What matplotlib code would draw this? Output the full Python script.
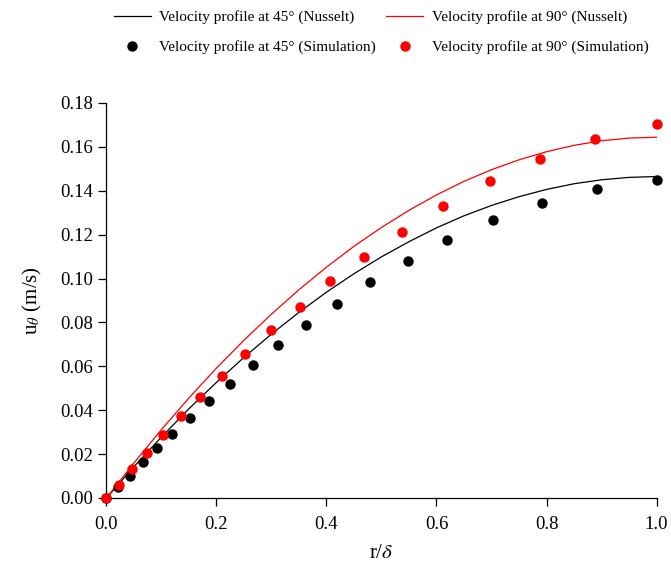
import numpy as np
import matplotlib
matplotlib.use("Agg")
import matplotlib.pyplot as plt

plt.rcParams['font.family'] = ['Liberation Serif', 'DejaVu Serif']
plt.rcParams['mathtext.fontset'] = 'stix'

# Nusselt profiles
x_line = [0.0, 0.05, 0.10, 0.15, 0.20, 0.25, 0.30, 0.35, 0.40, 0.45, 0.50,
          0.55, 0.60, 0.65, 0.70, 0.75, 0.80, 0.85, 0.90, 0.95, 1.0]
u45_nusselt = [0.0, 0.0143, 0.0278, 0.0407, 0.0527, 0.0641, 0.0747, 0.0846,
               0.0938, 0.1022, 0.1099, 0.1168, 0.1231, 0.1286, 0.1333, 0.1373,
               0.1406, 0.1432, 0.1450, 0.1461, 0.1465]
u90_nusselt = [0.0, 0.0160, 0.0312, 0.0456, 0.0592, 0.0719, 0.0838, 0.0949,
               0.1052, 0.1147, 0.1233, 0.1311, 0.1381, 0.1443, 0.1496, 0.1541,
               0.1578, 0.1607, 0.1628, 0.1640, 0.1644]

# simulation points
x45_sim = [0.0, 0.021, 0.043, 0.066, 0.092, 0.120, 0.152, 0.186, 0.224, 0.266,
           0.312, 0.363, 0.419, 0.480, 0.548, 0.620, 0.703, 0.792, 0.891, 1.0]
u45_sim = [0.0, 0.0050, 0.0102, 0.0163, 0.0226, 0.0293, 0.0363, 0.0441, 0.0521,
           0.0606, 0.0696, 0.0790, 0.0886, 0.0984, 0.1080, 0.1176, 0.1267,
           0.1345, 0.1408, 0.1448]
x90_sim = [0.0, 0.022, 0.047, 0.074, 0.103, 0.135, 0.170, 0.210, 0.251, 0.299,
           0.351, 0.406, 0.469, 0.538, 0.612, 0.697, 0.788, 0.888, 1.0]
u90_sim = [0.0, 0.0058, 0.0134, 0.0207, 0.0286, 0.0372, 0.0462, 0.0557, 0.0658,
           0.0764, 0.0872, 0.0988, 0.1100, 0.1214, 0.1331, 0.1443, 0.1544,
           0.1635, 0.1705]

fig = plt.figure(figsize=(6.71, 5.69), dpi=100)
ax = fig.add_axes([0.1587, 0.1248, 0.8197, 0.6942])

l1, = ax.plot(x_line, u45_nusselt, color='black', lw=0.9, zorder=2)
l2, = ax.plot(x_line, u90_nusselt, color='#ff0000', lw=0.9, zorder=2)
p1, = ax.plot(x45_sim, u45_sim, 'o', color='black', ms=7.5, mew=0,
              zorder=3, clip_on=False)
p2, = ax.plot(x90_sim, u90_sim, 'o', color='#ff0000', ms=7.5, mew=0,
              zorder=4, clip_on=False)

ax.set_xlim(0, 1.0)
ax.set_ylim(0, 0.18)
ax.set_xticks(np.arange(0, 1.01, 0.2))
ax.set_yticks(np.arange(0, 0.181, 0.02))
ax.xaxis.set_major_formatter(matplotlib.ticker.FormatStrFormatter('%.1f'))
ax.yaxis.set_major_formatter(matplotlib.ticker.FormatStrFormatter('%.2f'))
ax.spines['top'].set_visible(False)
ax.spines['right'].set_visible(False)
for s in ['left', 'bottom']:
    ax.spines[s].set_linewidth(0.9)
ax.tick_params(direction='out', length=6, width=0.9, labelsize=13.5)
ax.tick_params(axis='x', pad=7)

ax.set_xlabel(r'r/$\delta$', fontsize=15, labelpad=8)
ax.set_ylabel(r'u$_\theta$ (m/s)', fontsize=15, labelpad=12)

fig.legend([l1, p1, l2, p2],
           ['Velocity profile at 45° (Nusselt)',
            'Velocity profile at 45° (Simulation)',
            'Velocity profile at 90° (Nusselt)',
            'Velocity profile at 90° (Simulation)'],
           ncol=2, loc='center', bbox_to_anchor=(0.568, 0.943),
           frameon=False, fontsize=11, labelspacing=1.05,
           columnspacing=0.7, handlelength=2.4, handletextpad=0.55)

fig.savefig('out.png', dpi=100)
